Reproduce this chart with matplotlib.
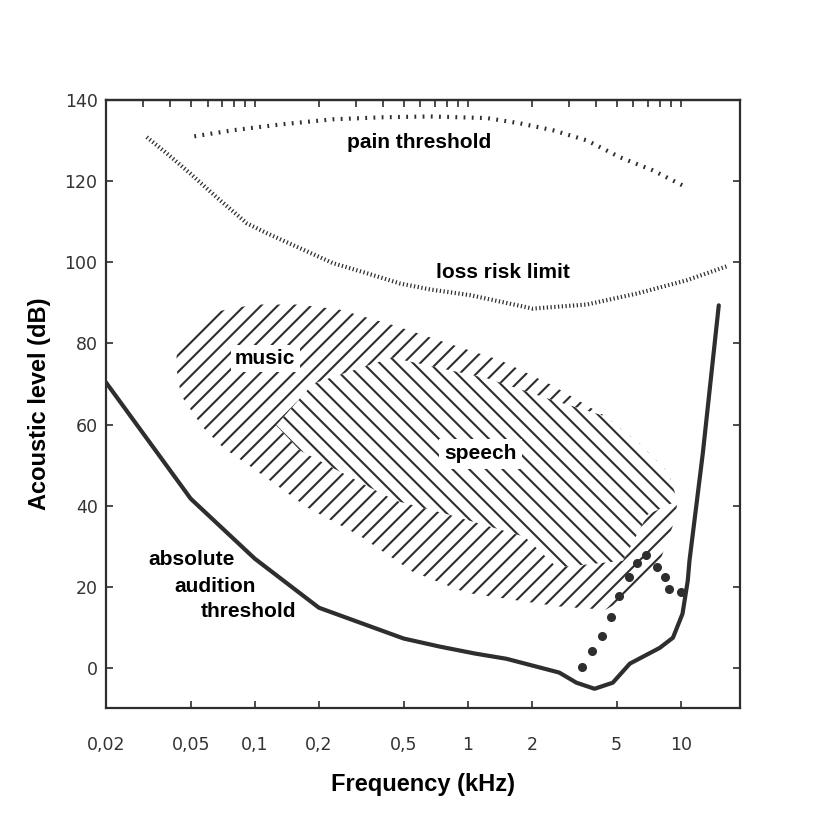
import numpy as np
import matplotlib
matplotlib.use("Agg")
import matplotlib.pyplot as plt
from matplotlib.ticker import FixedLocator, LogLocator, NullFormatter
from matplotlib.patches import Polygon

# ---------------- data ----------------
# absolute audition threshold (kHz, dB)
thr_f = [0.02, 0.05, 0.1, 0.2, 0.5, 0.74, 1.08, 1.52, 2.69, 3.24, 3.94, 4.8, 5.77, 7.98, 9.2, 10.2, 10.8, 11.0, 12.7, 15.1]
thr_db = [70.4, 41.7, 26.9, 14.8, 7.2, 5.2, 3.5, 2.2, -1.2, -3.7, -5.2, -3.7, 1.0, 4.9, 7.4, 13.3, 21.5, 26.4, 52.8, 89.4]

# pain threshold
pain_f = [0.052, 0.079, 0.136, 0.233, 0.40, 0.67, 1.23, 1.76, 2.51, 3.62, 5.2, 7.4, 10.2]
pain_db = [131.1, 132.6, 134.1, 135.3, 135.8, 136.0, 135.6, 134.3, 132.6, 130.1, 125.9, 122.7, 119.0]

# loss risk limit
loss_f = [0.0311, 0.0386, 0.0496, 0.0664, 0.092, 0.114, 0.163, 0.233, 0.337, 0.48, 0.67, 1.03, 2.02, 3.62, 6.22, 10.7, 16.4]
loss_db = [130.9, 126.9, 122.0, 116.0, 109.6, 107.2, 103.5, 99.8, 97.3, 94.8, 93.3, 91.9, 88.6, 89.6, 92.3, 95.6, 99.0]

# dotted curve (large dots)
dot_f = [3.43, 3.84, 4.29, 4.69, 5.12, 5.72, 6.22, 6.86, 7.72, 8.43, 8.8, 10.0]
dot_db = [0.2, 4.0, 7.9, 12.6, 17.8, 22.5, 25.9, 27.9, 24.9, 22.5, 19.3, 18.8]

# music area outline
music_f = [0.0426, 0.0435, 0.059, 0.100, 0.158, 0.248, 0.454, 0.81, 1.43, 2.51, 4.44, 6.5, 8.77, 9.65,
           9.45, 7.88, 5.36, 4.44, 2.69, 1.76, 0.98, 0.55, 0.31, 0.177, 0.100, 0.071, 0.057, 0.045]
music_db = [74.8, 79.8, 87.4, 89.6, 89.6, 88.4, 84.4, 80.0, 75.8, 69.6, 62.0, 55.0, 48.1, 41.2,
            36.8, 25.4, 16.8, 14.3, 15.1, 16.5, 18.5, 23.7, 32.6, 39.5, 48.9, 54.3, 59.3, 67.2]

# speech area outline
speech_f = [0.126, 0.188, 0.44, 1.23, 2.51, 4.44, 6.5, 8.77, 9.65, 7.0, 5.36, 2.63, 1.85, 0.81, 0.46, 0.34, 0.163]
speech_db = [59.8, 70.1, 76.5, 71.4, 66.0, 62.0, 55.0, 48.1, 41.2, 37.8, 26.4, 24.7, 32.3, 37.8, 41.2, 44.7, 53.6]

xticks = [0.02, 0.05, 0.1, 0.2, 0.5, 1, 2, 5, 10]
xticklabels = ["0,02", "0,05", "0,1", "0,2", "0,5", "1", "2", "5", "10"]
yticks = [0, 20, 40, 60, 80, 100, 120, 140]
yticklabels = ["0", "20", "40", "60", "80", "100", "120", "140"]

# ---------------- style ----------------
ink = "#2e2e2e"
plt.rcParams["lines.scale_dashes"] = False
plt.rcParams["hatch.linewidth"] = 1.5
plt.rcParams["hatch.color"] = ink
bold = dict(family=["Liberation Sans", "DejaVu Sans"], fontweight="bold", color="black")

fig = plt.figure(figsize=(8.15, 8.15), dpi=100)
fig.patch.set_facecolor("white")
ax = fig.add_axes([0.130, 0.131, 0.778, 0.746])
ax.set_xscale("log")
ax.set_xlim(0.02, 19)
ax.set_ylim(-10, 140)

# hatched regions
music = Polygon(np.column_stack([music_f, music_db]), closed=True, facecolor="white",
                edgecolor=ink, hatch="//", lw=0, zorder=1)
ax.add_patch(music)
speech = Polygon(np.column_stack([speech_f, speech_db]), closed=True, facecolor="white",
                 edgecolor=ink, hatch="\\\\", lw=0, zorder=1.5)
ax.add_patch(speech)

# curves
ax.plot(thr_f, thr_db, color=ink, lw=3.0, solid_joinstyle="round", solid_capstyle="round", zorder=3)
ax.plot(pain_f, pain_db, color=ink, lw=3.0, linestyle=(0, (1.3, 4.6)), dash_capstyle="butt", zorder=3)
ax.plot(loss_f, loss_db, color=ink, lw=3.0, linestyle=(0, (0.9, 1.8)), dash_capstyle="butt", zorder=3)
ax.plot(dot_f, dot_db, linestyle="none", marker="o", ms=5.5, color=ink, zorder=3)

# labels in plot
ax.text(0.594, 129.6, "pain threshold", ha="center", va="center", fontsize=15, zorder=4, **bold)
ax.text(1.46, 97.5, "loss risk limit", ha="center", va="center", fontsize=15, zorder=4, **bold)
ax.text(0.112, 76.3, "music", ha="center", va="center", fontsize=15, zorder=4,
        bbox=dict(facecolor="white", edgecolor="none", pad=3), **bold)
ax.text(1.15, 52.8, "speech", ha="center", va="center", fontsize=15, zorder=4,
        bbox=dict(facecolor="white", edgecolor="none", pad=4), **bold)
ax.text(0.0315, 26.7, "absolute", ha="left", va="center", fontsize=15, zorder=4, **bold)
ax.text(0.0421, 20.0, "audition", ha="left", va="center", fontsize=15, zorder=4, **bold)
ax.text(0.0558, 13.8, "threshold", ha="left", va="center", fontsize=15, zorder=4, **bold)

# axes cosmetics
for sp in ax.spines.values():
    sp.set_linewidth(1.6)
    sp.set_color(ink)

ax.xaxis.set_major_locator(FixedLocator(xticks))
ax.xaxis.set_minor_locator(FixedLocator([]))
ax.set_xticklabels(xticklabels)
ax.set_yticks(yticks)
ax.set_yticklabels(yticklabels)
ax.tick_params(axis="x", which="major", direction="in", length=5, width=1.2, color=ink,
               pad=20, labelsize=12.5, labelcolor="#333333")
ax.tick_params(axis="y", which="major", direction="in", length=5, width=1.2, color=ink,
               right=True, pad=6, labelsize=12.5, labelcolor="#333333")
for lab in ax.get_xticklabels() + ax.get_yticklabels():
    lab.set_family(["DejaVu Sans"])

top = ax.secondary_xaxis("top", functions=(lambda v: v, lambda v: v))
top.xaxis.set_major_locator(LogLocator(base=10, subs=np.arange(1, 10)))
top.xaxis.set_major_formatter(NullFormatter())
top.xaxis.set_minor_locator(FixedLocator([]))
top.tick_params(axis="x", which="major", direction="in", length=5, width=1.2, color=ink)
top.spines["top"].set_linewidth(1.6)
top.spines["top"].set_color(ink)

ax.set_xlabel("Frequency (kHz)", fontsize=17, labelpad=14, **bold)
ax.set_ylabel("Acoustic level (dB)", fontsize=17, labelpad=10, **bold)

fig.savefig("out.png", dpi=100, facecolor="white")
